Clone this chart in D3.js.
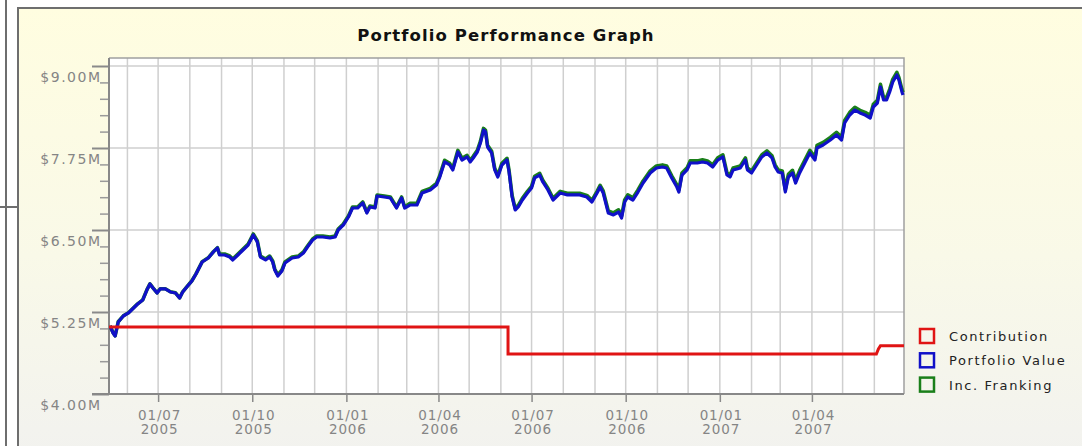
<!DOCTYPE html>
<html><head><meta charset="utf-8">
<script src="https://cdn.jsdelivr.net/npm/d3@7"></script>
<style>
html,body{margin:0;padding:0;background:#fff;}
svg{display:block;}
</style></head>
<body>
<svg id="chart" width="1082" height="446"></svg>
<script>
// ---------------- data ----------------
const chartTitle = "Portfolio Performance Graph";
const seriesNames = ["Contribution", "Portfolio Value", "Inc. Franking"];
const yTickValues = [4.00, 5.25, 6.50, 7.75, 9.00];
const yTickLabels = ["$4.00M", "$5.25M", "$6.50M", "$7.75M", "$9.00M"];
const xTickDates = ["2005-07-01","2005-10-01","2006-01-01","2006-04-01","2006-07-01","2006-10-01","2007-01-01","2007-04-01"];
const xTickLabels = [["01/07","2005"],["01/10","2005"],["01/01","2006"],["01/04","2006"],["01/07","2006"],["01/10","2006"],["01/01","2007"],["01/04","2007"]];
const xDomain = ["2005-05-14", "2007-06-30"];

const contributionDates = ["2005-05-14","2006-06-08","2006-06-08","2007-06-03","2007-06-05","2007-06-07","2007-06-30"];
const contributionValues = [5.021, 5.021, 4.610, 4.610, 4.686, 4.736, 4.736];

const valueDates = [
"2005-05-15","2005-05-18","2005-05-20","2005-05-23","2005-05-28","2005-06-02","2005-06-07","2005-06-11","2005-06-16","2005-06-20",
"2005-06-23","2005-06-26","2005-06-30","2005-07-03","2005-07-08","2005-07-13","2005-07-18","2005-07-22","2005-07-25","2005-07-29",
"2005-08-03","2005-08-07","2005-08-13","2005-08-19","2005-08-24","2005-08-28","2005-08-30","2005-09-04","2005-09-09","2005-09-12",
"2005-09-17","2005-09-22","2005-09-27","2005-10-02","2005-10-06","2005-10-09","2005-10-14","2005-10-18","2005-10-21","2005-10-23",
"2005-10-26","2005-10-30","2005-11-02","2005-11-09","2005-11-15","2005-11-20","2005-11-24","2005-11-29","2005-12-03","2005-12-09",
"2005-12-16","2005-12-21","2005-12-24","2005-12-29","2006-01-03","2006-01-07","2006-01-12","2006-01-17","2006-01-21","2006-01-24",
"2006-01-29","2006-01-31","2006-02-07","2006-02-13","2006-02-19","2006-02-24","2006-02-27","2006-03-04","2006-03-11","2006-03-16",
"2006-03-24","2006-03-30","2006-04-02","2006-04-07","2006-04-12","2006-04-15","2006-04-20","2006-04-24","2006-04-29","2006-05-02",
"2006-05-05","2006-05-09","2006-05-12","2006-05-15","2006-05-17","2006-05-19","2006-05-23","2006-05-26","2006-05-29","2006-06-02",
"2006-06-07","2006-06-09","2006-06-12","2006-06-15","2006-06-18","2006-06-22","2006-06-27","2006-07-01","2006-07-04","2006-07-09",
"2006-07-12","2006-07-17","2006-07-22","2006-07-29","2006-08-05","2006-08-11","2006-08-17","2006-08-24","2006-08-29","2006-09-03",
"2006-09-06","2006-09-09","2006-09-14","2006-09-19","2006-09-24","2006-09-27","2006-09-30","2006-10-03","2006-10-08","2006-10-13",
"2006-10-18","2006-10-25","2006-10-31","2006-11-06","2006-11-10","2006-11-15","2006-11-20","2006-11-22","2006-11-25","2006-11-30",
"2006-12-03","2006-12-10","2006-12-15","2006-12-20","2006-12-25","2006-12-30","2007-01-04","2007-01-08","2007-01-11","2007-01-14",
"2007-01-21","2007-01-26","2007-01-28","2007-02-01","2007-02-06","2007-02-11","2007-02-16","2007-02-21","2007-02-24","2007-02-27",
"2007-03-03","2007-03-06","2007-03-09","2007-03-13","2007-03-16","2007-03-20","2007-03-25","2007-03-30","2007-04-04","2007-04-06",
"2007-04-12","2007-04-19","2007-04-25","2007-04-30","2007-05-03","2007-05-08","2007-05-13","2007-05-18","2007-05-23","2007-05-28",
"2007-05-31","2007-06-04","2007-06-07","2007-06-10","2007-06-13","2007-06-16","2007-06-19","2007-06-23","2007-06-25","2007-06-28",
"2007-06-29"];

const portfolioValues = [
5.037,4.930,4.884,5.098,5.189,5.235,5.311,5.372,5.433,5.585,
5.677,5.616,5.540,5.601,5.601,5.555,5.540,5.463,5.555,5.631,
5.723,5.829,6.012,6.073,6.165,6.226,6.119,6.119,6.088,6.043,
6.119,6.195,6.271,6.424,6.317,6.088,6.043,6.088,6.012,5.890,
5.799,5.875,5.997,6.073,6.088,6.149,6.241,6.348,6.393,6.393,
6.378,6.393,6.500,6.576,6.698,6.835,6.835,6.912,6.759,6.851,
6.835,7.018,7.003,6.988,6.835,6.988,6.835,6.881,6.881,7.064,
7.110,7.186,7.293,7.537,7.491,7.415,7.689,7.567,7.613,7.537,
7.598,7.689,7.826,8.024,7.994,7.765,7.674,7.415,7.308,7.491,
7.567,7.384,7.003,6.805,6.851,6.957,7.064,7.140,7.293,7.338,
7.232,7.110,6.957,7.064,7.034,7.034,7.034,7.003,6.927,7.064,
7.155,7.064,6.759,6.729,6.774,6.683,6.927,7.003,6.957,7.079,
7.216,7.369,7.445,7.460,7.445,7.293,7.155,7.079,7.338,7.415,
7.521,7.521,7.537,7.521,7.460,7.567,7.613,7.338,7.308,7.415,
7.445,7.567,7.415,7.369,7.491,7.613,7.674,7.598,7.460,7.384,
7.369,7.079,7.308,7.369,7.216,7.369,7.521,7.674,7.567,7.750,
7.796,7.872,7.948,7.872,8.131,8.253,8.329,8.284,8.253,8.207,
8.375,8.436,8.680,8.482,8.482,8.604,8.756,8.863,8.787,8.604,
8.558];

const frankingValues = [
5.040,4.933,4.887,5.101,5.192,5.238,5.314,5.375,5.436,5.588,
5.680,5.619,5.543,5.604,5.604,5.558,5.543,5.466,5.558,5.634,
5.726,5.832,6.015,6.076,6.168,6.229,6.134,6.134,6.103,6.058,
6.134,6.210,6.286,6.439,6.332,6.103,6.058,6.103,6.027,5.905,
5.814,5.890,6.012,6.088,6.103,6.164,6.256,6.363,6.408,6.408,
6.393,6.408,6.515,6.591,6.713,6.850,6.850,6.927,6.774,6.866,
6.850,7.033,7.018,7.003,6.850,7.003,6.850,6.906,6.906,7.089,
7.135,7.211,7.318,7.562,7.516,7.440,7.714,7.592,7.638,7.562,
7.623,7.714,7.851,8.049,8.019,7.790,7.699,7.440,7.333,7.516,
7.592,7.409,7.028,6.830,6.876,6.982,7.089,7.165,7.318,7.363,
7.257,7.135,6.982,7.089,7.059,7.059,7.059,7.028,6.952,7.089,
7.180,7.096,6.791,6.761,6.806,6.715,6.959,7.035,6.989,7.111,
7.248,7.401,7.477,7.492,7.477,7.325,7.187,7.111,7.370,7.447,
7.553,7.553,7.569,7.553,7.492,7.599,7.645,7.370,7.340,7.447,
7.477,7.599,7.447,7.401,7.523,7.645,7.706,7.630,7.492,7.416,
7.401,7.119,7.348,7.409,7.256,7.409,7.561,7.714,7.607,7.790,
7.836,7.912,7.988,7.912,8.171,8.293,8.369,8.324,8.293,8.247,
8.415,8.476,8.720,8.522,8.522,8.644,8.796,8.903,8.827,8.644,
8.598];

const seriesColors = ["#e01414", "#1010c8", "#1a7f1a"];

// ---------------- drawing ----------------
const parse = d3.utcParse("%Y-%m-%d");
const svg = d3.select("#chart");
const FONT = "'DejaVu Sans', Verdana, sans-serif";

const plot = {left: 109, right: 904, top: 58, bottom: 394};
const x = d3.scaleUtc().domain(xDomain.map(parse)).range([plot.left, plot.right]);
const y = d3.scaleLinear().domain([4, 9]).range([394, 66]);

// background frame
const defs = svg.append("defs");
const grad = defs.append("linearGradient").attr("id", "bg").attr("x1", 0).attr("y1", 0).attr("x2", 0).attr("y2", 1);
grad.append("stop").attr("offset", "0%").attr("stop-color", "#fffde0");
grad.append("stop").attr("offset", "55%").attr("stop-color", "#f9f9e8");
grad.append("stop").attr("offset", "100%").attr("stop-color", "#f2f2ef");

svg.append("rect").attr("x", 18).attr("y", 8).attr("width", 1080).attr("height", 450)
  .attr("fill", "url(#bg)").attr("stroke", "#6e6e6e").attr("stroke-width", 2);
svg.append("line").attr("x1", 6).attr("x2", 6).attr("y1", 0).attr("y2", 446)
  .attr("stroke", "#6e6e6e").attr("stroke-width", 2);
svg.append("line").attr("x1", 0).attr("x2", 18).attr("y1", 207).attr("y2", 207)
  .attr("stroke", "#6e6e6e").attr("stroke-width", 2);

// title
svg.append("text").attr("x", 506).attr("y", 41).attr("text-anchor", "middle")
  .attr("font-family", FONT).attr("font-weight", "bold").attr("font-size", 16.5)
  .attr("letter-spacing", 1.1).attr("fill", "#111").text(chartTitle);

// plot background
svg.append("rect").attr("x", plot.left).attr("y", plot.top)
  .attr("width", plot.right - plot.left).attr("height", plot.bottom - plot.top).attr("fill", "#fff");

// grid
const grid = svg.append("g");
grid.selectAll("line.v").data(x.ticks(d3.utcMonth)).join("line").attr("class", "v")
  .attr("x1", d => x(d)).attr("x2", d => x(d)).attr("y1", plot.top).attr("y2", plot.bottom)
  .attr("stroke", "#cfcfcf").attr("stroke-width", 1.5);
grid.selectAll("line.h").data(yTickValues.slice(1)).join("line").attr("class", "h")
  .attr("x1", plot.left).attr("x2", plot.right).attr("y1", d => y(d)).attr("y2", d => y(d))
  .attr("stroke", "#cfcfcf").attr("stroke-width", 1.5);

// plot border (top/right)
svg.append("path").attr("d", `M${plot.left},${plot.top}H${plot.right}V${plot.bottom}`)
  .attr("fill", "none").attr("stroke", "#a0a0a0").attr("stroke-width", 1.5);

// minor y ticks
const minor = d3.range(4, 9.001, 0.25).filter(v => !yTickValues.some(t => Math.abs(t - v) < 1e-6));
svg.append("g").attr("transform", `translate(${plot.left},0)`)
  .call(d3.axisLeft(y).tickValues(minor).tickSize(9).tickFormat(""))
  .call(g => g.select(".domain").remove())
  .call(g => g.selectAll("line").attr("stroke", "#9a9a9a").attr("stroke-width", 1.5));

// major y axis
const yAxisG = svg.append("g").attr("transform", `translate(${plot.left},0)`)
  .call(d3.axisLeft(y).tickValues(yTickValues).tickSize(17).tickFormat((d, i) => yTickLabels[i]))
  .call(g => g.select(".domain").remove())
  .call(g => g.selectAll("line").attr("stroke", "#8a8a8a").attr("stroke-width", 2));
yAxisG.selectAll("text").attr("x", -7.5).attr("dy", null).attr("y", 15.5)
  .attr("font-family", FONT).attr("font-size", 14).attr("letter-spacing", 1.5)
  .attr("fill", "#858585").attr("text-anchor", "end");

// x axis ticks
const xAxisG = svg.append("g").attr("transform", `translate(0,${plot.bottom})`)
  .call(d3.axisBottom(x).tickValues(xTickDates.map(parse)).tickSize(8).tickFormat(""))
  .call(g => g.select(".domain").remove())
  .call(g => g.selectAll("line").attr("stroke", "#8a8a8a").attr("stroke-width", 1.5));
xAxisG.selectAll(".tick").each(function(d, i) {
  const t = d3.select(this).append("text").attr("text-anchor", "middle")
    .attr("font-family", FONT).attr("font-size", 13.5).attr("letter-spacing", 0.9).attr("fill", "#858585");
  t.append("tspan").attr("x", 1).attr("y", 26).text(xTickLabels[i][0]);
  t.append("tspan").attr("x", 1).attr("y", 40).text(xTickLabels[i][1]);
});

// axis lines
svg.append("line").attr("x1", plot.left).attr("x2", plot.left).attr("y1", plot.top).attr("y2", plot.bottom)
  .attr("stroke", "#888").attr("stroke-width", 2);
svg.append("line").attr("x1", 92).attr("x2", plot.right).attr("y1", plot.bottom).attr("y2", plot.bottom)
  .attr("stroke", "#888").attr("stroke-width", 2);

// lines
const line = d3.line().x(d => x(d[0])).y(d => y(d[1]));
defs.append("clipPath").attr("id", "plotclip").append("rect")
  .attr("x", plot.left).attr("y", plot.top).attr("width", plot.right - plot.left + 1).attr("height", plot.bottom - plot.top);
const lines = svg.append("g").attr("clip-path", "url(#plotclip)");

const franking = valueDates.map((d, i) => [parse(d), frankingValues[i]]);
const portfolio = valueDates.map((d, i) => [parse(d), portfolioValues[i]]);
const contribution = contributionDates.map((d, i) => [parse(d), contributionValues[i]]);

lines.append("path").datum(franking).attr("d", line).attr("fill", "none")
  .attr("stroke", seriesColors[2]).attr("stroke-width", 3.6).attr("stroke-linejoin", "round");
lines.append("path").datum(portfolio).attr("d", line).attr("fill", "none")
  .attr("stroke", seriesColors[1]).attr("stroke-width", 3.2).attr("stroke-linejoin", "round");
lines.append("path").datum(contribution).attr("d", line).attr("fill", "none")
  .attr("stroke", seriesColors[0]).attr("stroke-width", 3).attr("stroke-linejoin", "miter");

// legend
const legend = svg.append("g").attr("transform", "translate(920,329)");
const items = legend.selectAll("g").data(seriesNames).join("g")
  .attr("transform", (d, i) => `translate(0,${i * 24.3})`);
items.append("rect").attr("width", 14).attr("height", 14).attr("fill", "none")
  .attr("stroke", (d, i) => seriesColors[i]).attr("stroke-width", 2.5);
items.append("text").attr("x", 29).attr("y", 12).attr("font-family", FONT).attr("font-size", 13)
  .attr("letter-spacing", 1.6).attr("fill", "#222").text(d => d);
</script>
</body></html>
